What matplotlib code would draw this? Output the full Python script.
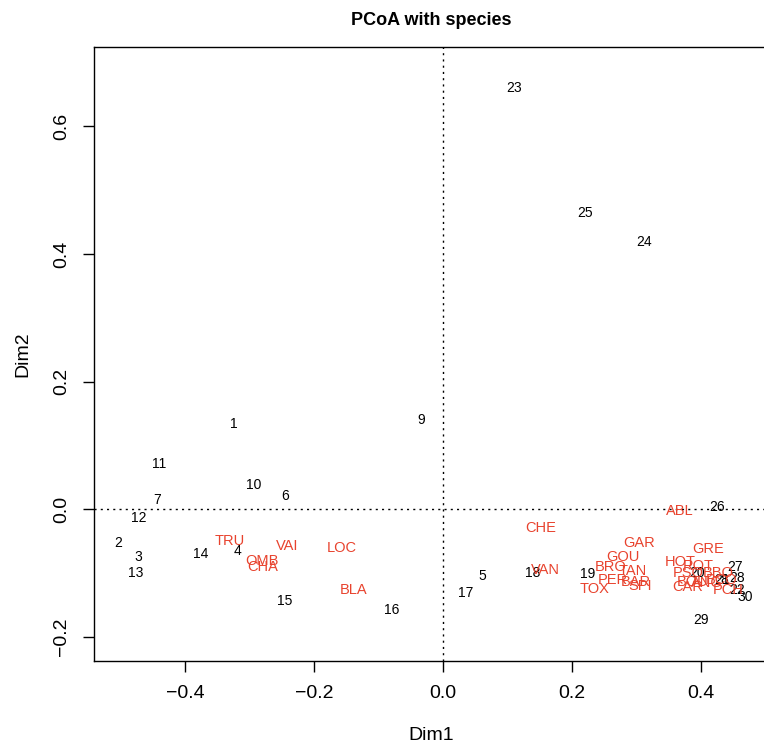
import numpy as np
import matplotlib
matplotlib.use('Agg')
import matplotlib.pyplot as plt

plt.rcParams['font.family'] = ['Liberation Sans', 'DejaVu Sans']

# site scores (PCoA, dim1 / dim2)
sites = [str(i) for i in range(1, 31)]
site_x = [-0.324, -0.503, -0.472, -0.319, 0.061, -0.245, -0.443, 0.436, -0.034, -0.294,
          -0.440, -0.472, -0.476, -0.376, -0.246, -0.079, 0.036, 0.140, 0.224, 0.394,
          0.433, 0.456, 0.111, 0.312, 0.221, 0.425, 0.453, 0.456, 0.401, 0.469]
site_y = [0.133, -0.053, -0.075, -0.066, -0.105, 0.020, 0.014, -0.112, 0.140, 0.038,
          0.071, -0.014, -0.100, -0.071, -0.144, -0.158, -0.132, -0.100, -0.102, -0.100,
          -0.111, -0.127, 0.660, 0.419, 0.464, 0.003, -0.091, -0.108, -0.174, -0.138]

# species (weighted averages)
species = ['CHA', 'TRU', 'VAI', 'LOC', 'OMB', 'BLA', 'HOT', 'TOX', 'VAN', 'CHE',
           'BAR', 'SPI', 'GOU', 'BRO', 'PER', 'BOU', 'PSO', 'ROT', 'CAR', 'TAN',
           'BCO', 'PCH', 'GRE', 'GAR', 'BBO', 'ABL', 'ANG']
sp_x = [-0.279, -0.330, -0.241, -0.156, -0.280, -0.138, 0.368, 0.235, 0.159, 0.152,
        0.300, 0.306, 0.280, 0.260, 0.264, 0.387, 0.380, 0.396, 0.380, 0.294,
        0.433, 0.442, 0.412, 0.304, 0.427, 0.367, 0.410]
sp_y = [-0.091, -0.050, -0.058, -0.061, -0.082, -0.127, -0.083, -0.126, -0.096, -0.030,
        -0.115, -0.121, -0.075, -0.091, -0.111, -0.115, -0.100, -0.089, -0.122, -0.097,
        -0.111, -0.127, -0.063, -0.053, -0.100, -0.003, -0.116]

fig = plt.figure(figsize=(7.64, 7.48), dpi=100)
ax = fig.add_axes([0.123, 0.1163, 0.882, 0.8209])

for lab, x, y in zip(sites, site_x, site_y):
    ax.text(x, y, lab, ha='center', va='center', fontsize=10, color='black')
for lab, x, y in zip(species, sp_x, sp_y):
    ax.text(x, y, lab, ha='center', va='center', fontsize=10.5, color='#e8432e')

ax.axhline(0, color='black', linestyle=(0, (1.5, 3)), linewidth=1)
ax.axvline(0, color='black', linestyle=(0, (1.5, 3)), linewidth=1)

ax.set_xlim(-0.541, 0.504)
ax.set_ylim(-0.2384, 0.7247)
ax.set_xticks([-0.4, -0.2, 0.0, 0.2, 0.4])
ax.set_xticklabels(['\u22120.4', '\u22120.2', '0.0', '0.2', '0.4'])
ax.set_yticks([-0.2, 0.0, 0.2, 0.4, 0.6])
ax.set_yticklabels(['\u22120.2', '0.0', '0.2', '0.4', '0.6'], rotation=90, va='center')
ax.tick_params(direction='out', length=8, width=1, labelsize=14, pad=9)

for s in ax.spines.values():
    s.set_linewidth(1)

ax.set_xlabel('Dim1', fontsize=14, labelpad=18)
ax.set_ylabel('Dim2', fontsize=14, labelpad=16)
ax.set_title('PCoA with species', fontsize=13, fontweight='bold', pad=16)

fig.savefig('out.png', dpi=100)
